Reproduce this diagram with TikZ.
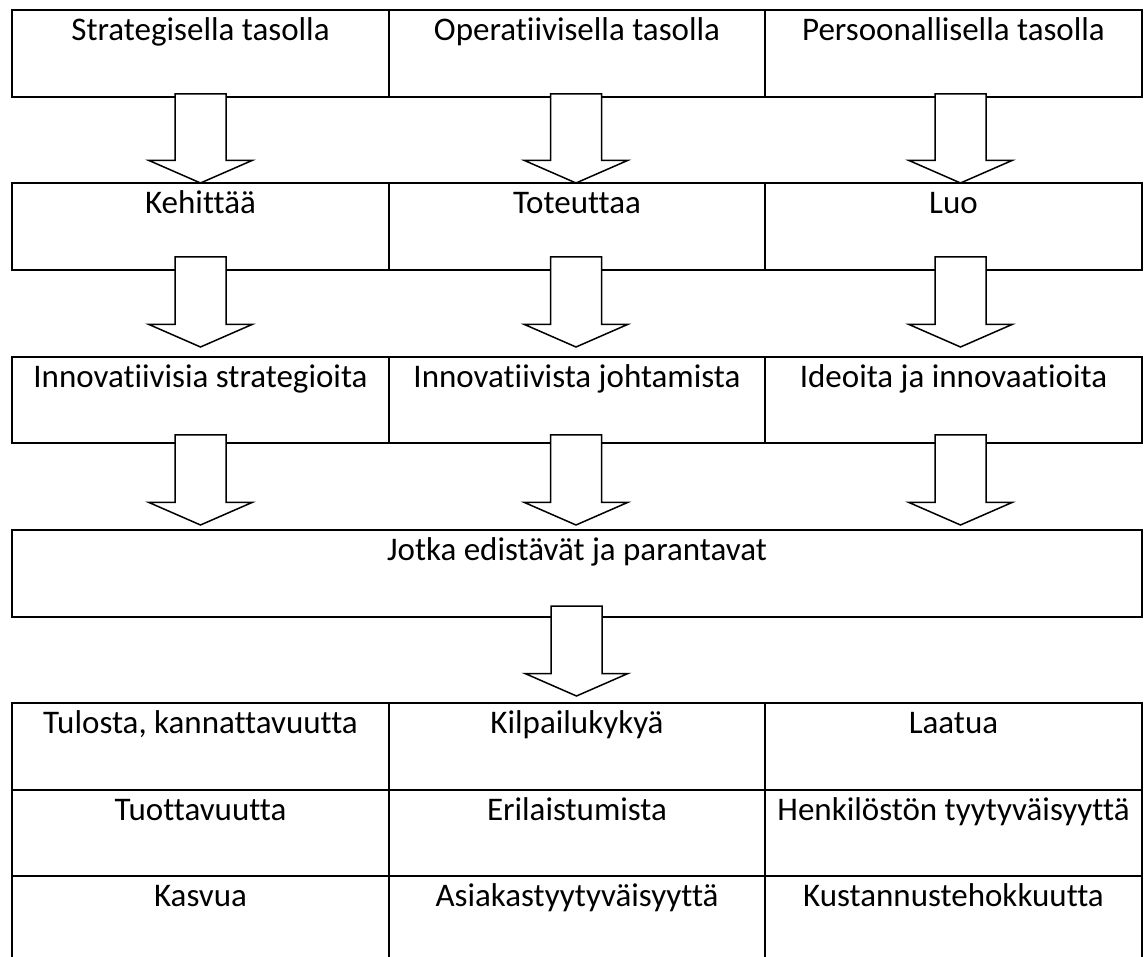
\documentclass[tikz,border=0pt]{standalone}
\usepackage{fontspec}
\setmainfont{Carlito}[Ligatures={NoCommon}]
\usetikzlibrary{calc}
\tikzset{
  cell/.style={draw=black, line width=2.3pt, rectangle, inner sep=0pt, outer sep=0pt, anchor=north west},
  lbl/.style={anchor=base, inner sep=0pt, font=\fontsize{33}{40}\selectfont},
  barrow/.style={draw=black, fill=white, line width=1.5pt, line join=miter}
}
\newcommand\mkcell[6]{%
  \node[cell, minimum width=#4pt, minimum height=#5pt] (#1) at (#2,#3) {};
  \node[lbl] (#1t) at ($(#1.north)+(0pt,-30.5pt)$) {#6};
}
\newcommand\flowarr[5]{%
  \draw[barrow] let \p1=($(#1.south)+(#3pt,0pt)$), \p2=(#2.north) in
    (\x1-25.5pt,\y1+#4pt) -- (\x1+25.5pt,\y1+#4pt) -- (\x1+25.5pt,\y2+#5pt+22.5pt)
    -- (\x1+51.5pt,\y2+#5pt+22.5pt) -- (\x1,\y2+#5pt) -- (\x1-51.5pt,\y2+#5pt+22.5pt)
    -- (\x1-25.5pt,\y2+#5pt+22.5pt) -- cycle;
}
\begin{document}
\begin{tikzpicture}[x=1pt, y=-1pt]
\useasboundingbox (0,0) rectangle (1144,957);
% row 1
\mkcell{r1c1}{12}{10}{377}{87}{Strategisella tasolla}
\mkcell{r1c2}{389}{10}{376}{87}{Operatiivisella tasolla}
\mkcell{r1c3}{765}{10}{377}{87}{Persoonallisella tasolla}
% row 2
\mkcell{r2c1}{12}{183}{377}{87}{Kehittää}
\mkcell{r2c2}{389}{183}{376}{87}{Toteuttaa}
\mkcell{r2c3}{765}{183}{377}{87}{Luo}
% row 3
\mkcell{r3c1}{12}{357}{377}{86}{Innovatiivisia strategioita}
\mkcell{r3c2}{389}{357}{376}{86}{Innovatiivista johtamista}
\mkcell{r3c3}{765}{357}{377}{86}{Ideoita ja innovaatioita}
% row 4
\mkcell{jotka}{12}{530}{1130}{87}{Jotka edistävät ja parantavat}
% table
\mkcell{t1c1}{12}{703}{377}{87}{Tulosta, kannattavuutta}
\mkcell{t1c2}{389}{703}{376}{87}{Kilpailukykyä}
\mkcell{t1c3}{765}{703}{377}{87}{Laatua}
\mkcell{t2c1}{12}{790}{377}{86}{Tuottavuutta}
\mkcell{t2c2}{389}{790}{376}{86}{Erilaistumista}
\mkcell{t2c3}{765}{790}{377}{86}{Henkilöstön tyytyväisyyttä}
\mkcell{t3c1}{12}{876}{377}{86}{Kasvua}
\mkcell{t3c2}{389}{876}{376}{86}{Asiakastyytyväisyyttä}
\mkcell{t3c3}{765}{876}{377}{86}{Kustannustehokkuutta}
% arrows
\flowarr{r1c1}{r2c1}{0}{3}{0}
\flowarr{r1c2}{r2c2}{-1}{3}{0}
\flowarr{r1c3}{r2c3}{7}{3}{0}
\flowarr{r2c1}{r3c1}{0}{13}{10}
\flowarr{r2c2}{r3c2}{-1}{13}{10}
\flowarr{r2c3}{r3c3}{7}{13}{10}
\flowarr{r3c1}{jotka}{0}{8}{5}
\flowarr{r3c2}{jotka}{-1}{8}{5}
\flowarr{r3c3}{jotka}{7}{8}{5}
\flowarr{jotka}{t1c2}{-0.5}{11}{7}
\end{tikzpicture}
\end{document}
